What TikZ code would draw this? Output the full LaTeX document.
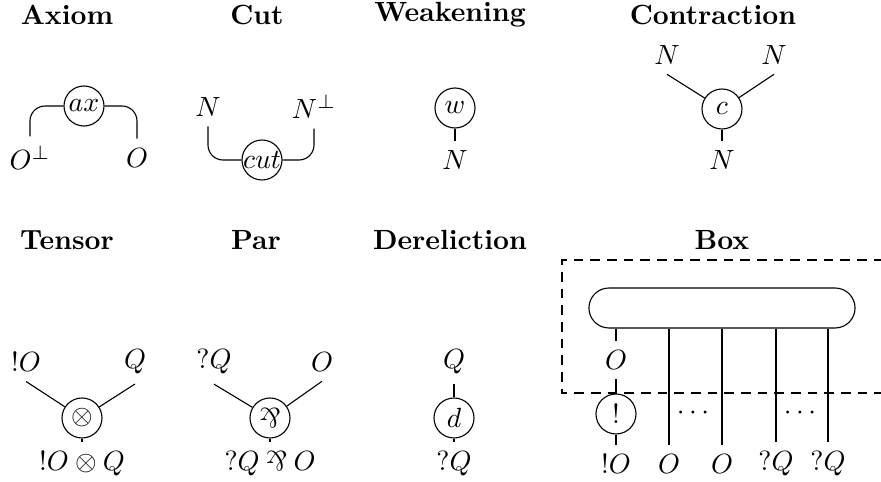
\documentclass[tikz,border=0pt]{standalone}
\usepackage{amssymb}
\usepackage{graphicx}
\newcommand{\myparr}{\mathbin{\rotatebox[origin=c]{180}{$\&$}}}
\newcommand{\myparrg}{\rotatebox[origin=c]{180}{$\&$}}
\begin{document}
\begin{tikzpicture}[x=0.36pt,y=-0.36pt,
  title/.style={font=\bfseries},
  gate/.style={draw,circle,minimum size=14.4pt,inner sep=0pt},
  lab/.style={inner sep=3.33pt},
  frame/.style={dash pattern=on 3.5pt off 2.5pt},
  wire/.style={rounded corners=5.4pt}]
\useasboundingbox (0,0) rectangle (881,482);
\clip (0,0) rectangle (881,482);
% titles
\node[title] (tax) at (67,15) {Axiom};
\node[title] (tcut) at (257,15) {Cut};
\node[title] (twk) at (450,15) {Weakening};
\node[title] (tct) at (713,15) {Contraction};
\node[title] (tts) at (67,240) {Tensor};
\node[title] (tpr) at (256,240) {Par};
\node[title] (tdr) at (450,240) {Dereliction};
\node[title] (tbx) at (722,240) {Box};
% axiom
\node[gate] (ax) at (84,106) {$ax$};
\node[lab] (axl) at (30,158) {$O^\perp$};
\node[lab] (axr) at (137,158) {$O$};
\draw[wire] (ax.west) -| (axl.north);
\draw[wire] (ax.east) -| (axr.north);
% cut
\node[lab] (cl) at (208,107) {$N$};
\node[lab] (cr) at (314,107) {$N^\perp$};
\node[gate] (cut) at (262,160) {\makebox[0pt]{$cut$}};
\draw[wire] (cl.south) |- (cut.west);
\draw[wire] (cr.south) |- (cut.east);
% weakening
\node[gate] (w) at (455,108) {$w$};
\node[lab] (wN) at (455,160) {$N$};
\draw (w) -- (wN);
% contraction
\node[gate] (c) at (722,109) {$c$};
\node[lab] (cN1) at (667,55) {$N$};
\node[lab] (cN2) at (774,55) {$N$};
\node[lab] (cN3) at (722,160) {$N$};
\draw (cN1.south) -- (c);
\draw (cN2.south) -- (c);
\draw (c) -- (cN3);
% tensor
\node[gate] (t) at (82,418) {$\otimes$};
\node[lab] (tl) at (26,362) {$!O$};
\node[lab] (tr) at (135,362) {$Q$};
\node[lab] (tb) at (82,464) {$!O\otimes Q$};
\draw (tl.south) -- (t);
\draw (tr.south) -- (t);
\draw (t) -- (tb);
% par
\node[gate] (p) at (270,418) {\myparrg};
\node[lab] (pl) at (214,362) {$?Q$};
\node[lab] (pr) at (322,362) {$O$};
\node[lab] (pb) at (270,464) {$?Q\myparr O$};
\draw (pl.south) -- (p);
\draw (pr.south) -- (p);
\draw (p) -- (pb);
% dereliction
\node[gate] (d) at (454,418) {$d$};
\node[lab] (dt) at (454,362) {$Q$};
\node[lab] (db) at (454,464) {$?Q$};
\draw (dt) -- (d);
\draw (d) -- (db);
% box
\draw[frame] (900,260) -- (562,260) -- (562,393) -- (900,393);
\node[draw,rectangle,rounded corners=7.2pt,minimum width=95.8pt,minimum height=14.4pt,inner sep=0pt] (pill) at (722,308) {};
\node[lab] (bO) at (616,360) {$O$};
\node[gate] (bang) at (616,414) {$!$};
\node[lab] (b1) at (616,464) {$!O$};
\node[lab] (b2) at (669,464) {$O$};
\node[lab] (b3) at (722,464) {$O$};
\node[lab] (b4) at (776,464) {$?Q$};
\node[lab] (b5) at (828,464) {$?Q$};
\node (dots1) at (693,413) {$\cdots$};
\node (dots2) at (800,413) {$\cdots$};
\draw (pill.south -| bO) -- (bO);
\draw (bO) -- (bang);
\draw (bang) -- (b1);
\draw (pill.south -| b2) -- (b2);
\draw (pill.south -| b3) -- (b3);
\draw (pill.south -| b4) -- (b4);
\draw (pill.south -| b5) -- (b5);
\end{tikzpicture}
\end{document}
